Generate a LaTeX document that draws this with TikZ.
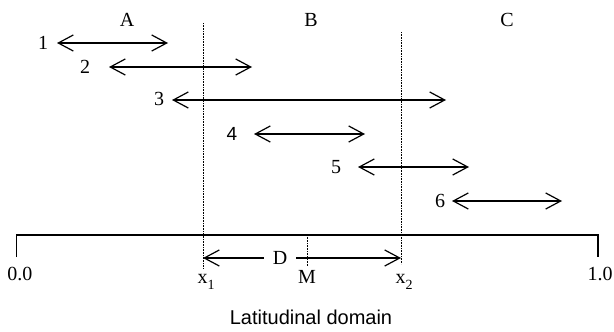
\documentclass[tikz,border=0pt]{standalone}
\usepackage{fontspec}
\setmainfont{Liberation Serif}
\setsansfont{Liberation Sans}
\usetikzlibrary{arrows.meta}
\begin{document}
\begin{tikzpicture}[x=1pt,y=-1pt,
  lbl/.style={inner sep=0pt,font=\fontsize{20}{24}\selectfont},
  rng/.style={line width=1.2pt,{Straight Barb[length=15pt,width=16pt]}-{Straight Barb[length=15pt,width=16pt]}},
  dotline/.style={line width=0.9pt,dash pattern=on 0.8pt off 0.8pt},
  axis/.style={line width=1.1pt}]
\useasboundingbox (0,0) rectangle (614,332);
% region labels
\node[lbl] (A) at (127,20) {A};
\node[lbl] (B) at (311,20) {B};
\node[lbl] (C) at (507,20) {C};
% range arrows
\node[lbl] (n1) at (43,43) {1};
\coordinate (a1) at (57,43); \coordinate (b1) at (168,43);
\node[lbl] (n2) at (85,67) {2};
\coordinate (a2) at (109,67); \coordinate (b2) at (252,67);
\node[lbl] (n3) at (159,99) {3};
\coordinate (a3) at (172,100); \coordinate (b3) at (446,100);
\node[lbl,font=\fontsize{19}{23}\selectfont\sffamily] (n4) at (232,134) {4};
\coordinate (a4) at (254,134); \coordinate (b4) at (365,134);
\node[lbl] (n5) at (336,167) {5};
\coordinate (a5) at (358,167); \coordinate (b5) at (469,167);
\node[lbl] (n6) at (440,201) {6};
\coordinate (a6) at (452,201); \coordinate (b6) at (562,201);
\draw[rng] (a1) -- (b1);
\draw[rng] (a2) -- (b2);
\draw[rng] (a3) -- (b3);
\draw[rng] (a4) -- (b4);
\draw[rng] (a5) -- (b5);
\draw[rng] (a6) -- (b6);
% dotted boundaries
\coordinate (t1) at (203,23); \coordinate (d1) at (203,268);
\coordinate (t2) at (401,32); \coordinate (d2) at (401,264);
\draw[dotline] (t1) -- (d1);
\draw[dotline] (t2) -- (d2);
% axis
\coordinate (L0) at (16.5,257); \coordinate (L1) at (16.5,235);
\coordinate (R1) at (598,235); \coordinate (R0) at (598,257);
\draw[axis] (L0) -- (L1) -- (R1) -- (R0);
\node[lbl,anchor=base] (z0) at (20,280) {0.0};
\node[lbl,anchor=base] (z1) at (600,280) {1.0};
% D arrow and M
\coordinate (m1) at (307,235); \coordinate (m0) at (307,266);
\draw[dotline] (m1) -- (m0);
\coordinate (p1) at (203,258); \coordinate (p2) at (401,258);
\draw[rng] (p1) -- (p2);
\node[lbl,fill=white,inner xsep=9pt,inner ysep=1pt] (D) at (280,258) {D};
\node[lbl,anchor=base] (x1) at (206,283) {x\raisebox{-0.3em}{\fontsize{14}{16}\selectfont 1}};
\node[lbl,anchor=base] (M) at (307,283) {M};
\node[lbl,anchor=base] (x2) at (404,283) {x\raisebox{-0.3em}{\fontsize{14}{16}\selectfont 2}};
\node[lbl,anchor=base,font=\fontsize{20}{24}\selectfont\sffamily] (title) at (311,324) {Latitudinal domain};
\end{tikzpicture}
\end{document}
